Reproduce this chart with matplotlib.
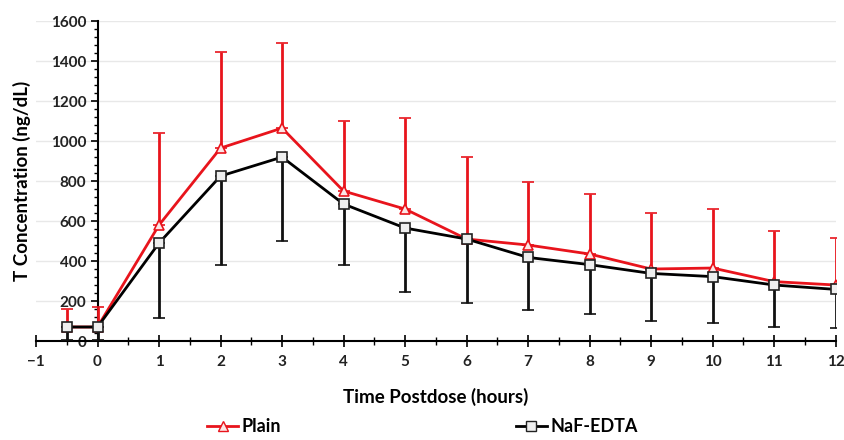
import matplotlib.pyplot as plt
import numpy as np
from matplotlib.ticker import MultipleLocator
from matplotlib.lines import Line2D

# data
hours = [-0.5, 0, 1, 2, 3, 4, 5, 6, 7, 8, 9, 10, 11, 12]
plain_mean = [70, 70, 580, 965, 1065, 750, 660, 510, 480, 435, 360, 365, 297, 280]
plain_upper = [160, 170, 1040, 1445, 1490, 1100, 1115, 920, 795, 735, 640, 660, 550, 515]
naf_mean = [70, 70, 490, 825, 920, 685, 565, 510, 418, 382, 338, 322, 280, 258]
naf_lower = [5, 5, 115, 380, 500, 380, 243, 192, 155, 135, 102, 92, 68, 63]

plt.rcParams['font.family'] = ['Lato', 'DejaVu Sans']

fig = plt.figure(figsize=(8.45, 4.4), dpi=100)
ax = fig.add_axes([0.0426, 0.225, 0.9464, 0.727])

x = np.array(hours)
pm = np.array(plain_mean)
nm = np.array(naf_mean)

red = '#e8141c'
ax.errorbar(x, pm, yerr=[np.zeros_like(pm), np.array(plain_upper) - pm],
            color=red, lw=2, marker='^', ms=7, mfc='#fbe6e6', mec=red, mew=1.2,
            ecolor=red, elinewidth=2, capsize=4, capthick=2, zorder=3)
ax.errorbar(x, nm, yerr=[nm - np.array(naf_lower), np.zeros_like(nm)],
            color='black', lw=2, marker='s', ms=7, mfc='#eeeeee', mec='#222222', mew=1.2,
            ecolor='#111111', elinewidth=2, capsize=4, capthick=2, zorder=4)

ax.set_xlim(-1, 12)
ax.set_ylim(0, 1600)
ax.xaxis.set_major_locator(MultipleLocator(1))
ax.xaxis.set_minor_locator(MultipleLocator(0.5))
ax.yaxis.set_major_locator(MultipleLocator(200))
ax.yaxis.set_minor_locator(MultipleLocator(40))
ax.grid(axis='y', color='#e8e8e8', lw=1)
ax.set_axisbelow(True)

for s in ['top', 'right']:
    ax.spines[s].set_visible(False)
ax.spines['left'].set_position(('data', 0))
ax.spines['left'].set_linewidth(1.5)
ax.spines['bottom'].set_linewidth(1.5)
ax.tick_params(axis='y', which='major', direction='out', length=5, width=1.2, labelsize=11, pad=3)
ax.tick_params(axis='y', which='minor', direction='out', length=3, width=1)
ax.tick_params(axis='x', which='major', direction='inout', length=8, width=1.2, labelsize=11, pad=6)
ax.tick_params(axis='x', which='minor', direction='inout', length=6, width=1)
for lab in ax.get_xticklabels() + ax.get_yticklabels():
    lab.set_fontweight('bold')
    lab.set_color('#222222')

ax.set_xlabel('Time Postdose (hours)', fontsize=13.5, fontweight='bold', labelpad=14)
ax.set_ylabel('T Concentration (ng/dL)', fontsize=13.5, fontweight='bold')
ax.yaxis.set_label_coords(-0.006, 0.5)

handles = [
    Line2D([], [], color=red, lw=2, marker='^', ms=7, mfc='#fbe6e6', mec=red),
    Line2D([], [], color='black', lw=2, marker='s', ms=7, mfc='#eeeeee', mec='#222222'),
]
fig.legend(handles, ['Plain', 'NaF-EDTA'], loc='center', bbox_to_anchor=(0.5, 0.03), ncol=2,
           frameon=False, columnspacing=13.0, handlelength=1.7, handletextpad=0.2,
           prop={'weight': 'bold', 'size': 13})

fig.savefig('out.png', dpi=100)
plt.close(fig)
